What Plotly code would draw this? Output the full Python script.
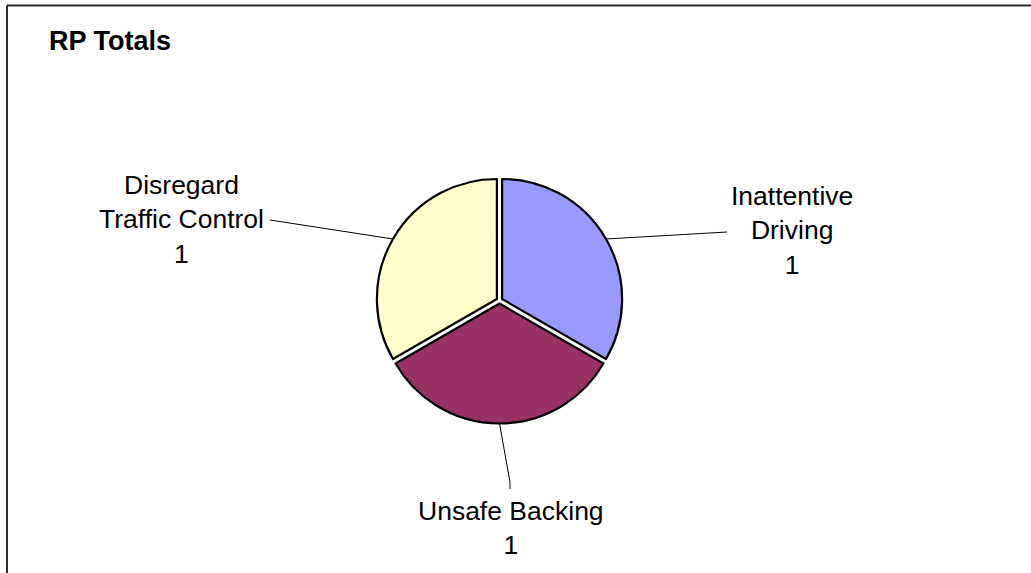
import math
import plotly.graph_objects as go

# ---- data ----
categories = ["Inattentive Driving", "Unsafe Backing", "Disregard Traffic Control"]
label_lines = ["Inattentive<br>Driving", "Unsafe Backing", "Disregard<br>Traffic Control"]
values = [1, 1, 1]
colors = ["#9999FF", "#993366", "#FFFFCC"]
title_text = "RP Totals"

# ---- layout (pixels) ----
W, H = 1031, 573
CX, CY = 499.5, 300.5      # pie centre in px
R_BOX = 123.0              # half size of pie domain in px
PULL = 0.025
R = R_BOX / (1 + PULL)     # actual radius plotly will use
FONT = "Arial, Liberation Sans, sans-serif"
FS = 26.5
FS_TITLE = 27

# label centre positions (px) and leader end points (px)
label_pos = [(792, 231), (511, 528), (181, 219)]
leader_end = [[(727, 232)], [(510, 482), (510, 489)], [(270, 220)]]


def px(x):
    return x / W


def py(y):
    return 1 - y / H


fig = go.Figure()
fig.add_trace(go.Pie(
    labels=categories,
    values=values,
    sort=False,
    direction="clockwise",
    rotation=0,
    pull=[PULL] * len(values),
    marker=dict(colors=colors, line=dict(color="#000000", width=2.2)),
    textinfo="none",
    hoverinfo="label+value",
    showlegend=False,
    domain=dict(x=[px(CX - R_BOX), px(CX + R_BOX)],
                y=[py(CY + R_BOX), py(CY - R_BOX)]),
))

shapes = []
annotations = []
total = sum(values)
cum = 0.0
for i, v in enumerate(values):
    mid = (cum + v / 2) / total * 2 * math.pi  # clockwise from 12 o'clock
    cum += v
    dx, dy = math.sin(mid), -math.cos(mid)
    rr = R * (1 + PULL)
    sx, sy = CX + rr * dx, CY + rr * dy
    pts = [(sx, sy)] + leader_end[i]
    path = "M " + " L ".join(f"{px(a):.5f},{py(b):.5f}" for a, b in pts)
    shapes.append(dict(type="path", path=path, xref="paper", yref="paper",
                       line=dict(color="#000000", width=1)))
    lx, ly = label_pos[i]
    annotations.append(dict(
        text=f"{label_lines[i]}<br>{values[i]}",
        x=px(lx), y=py(ly), xref="paper", yref="paper",
        xanchor="center", yanchor="middle", showarrow=False, align="center",
        font=dict(family=FONT, size=FS, color="#000000"),
    ))

annotations.append(dict(
    text=f"<b>{title_text}</b>", x=px(47), y=py(41), xref="paper", yref="paper",
    xanchor="left", yanchor="middle", showarrow=False,
    font=dict(family=FONT, size=FS_TITLE, color="#000000"),
))

# chart-area border (top and left edges visible)
shapes.append(dict(type="line", xref="paper", yref="paper",
                   x0=px(7), y0=py(5.5), x1=1.0, y1=py(5.5),
                   line=dict(color="#2a2a2a", width=2)))
shapes.append(dict(type="line", xref="paper", yref="paper",
                   x0=px(7), y0=py(5.5), x1=px(7), y1=0.0,
                   line=dict(color="#2a2a2a", width=2)))

fig.update_layout(
    width=W, height=H,
    margin=dict(l=0, r=0, t=0, b=0),
    paper_bgcolor="#FFFFFF", plot_bgcolor="#FFFFFF",
    shapes=shapes, annotations=annotations,
    showlegend=False,
)

fig.write_html(
    "out.html",
    config={"displayModeBar": False},
    post_script="document.body.style.margin='0px';document.body.style.overflow='hidden';",
)
